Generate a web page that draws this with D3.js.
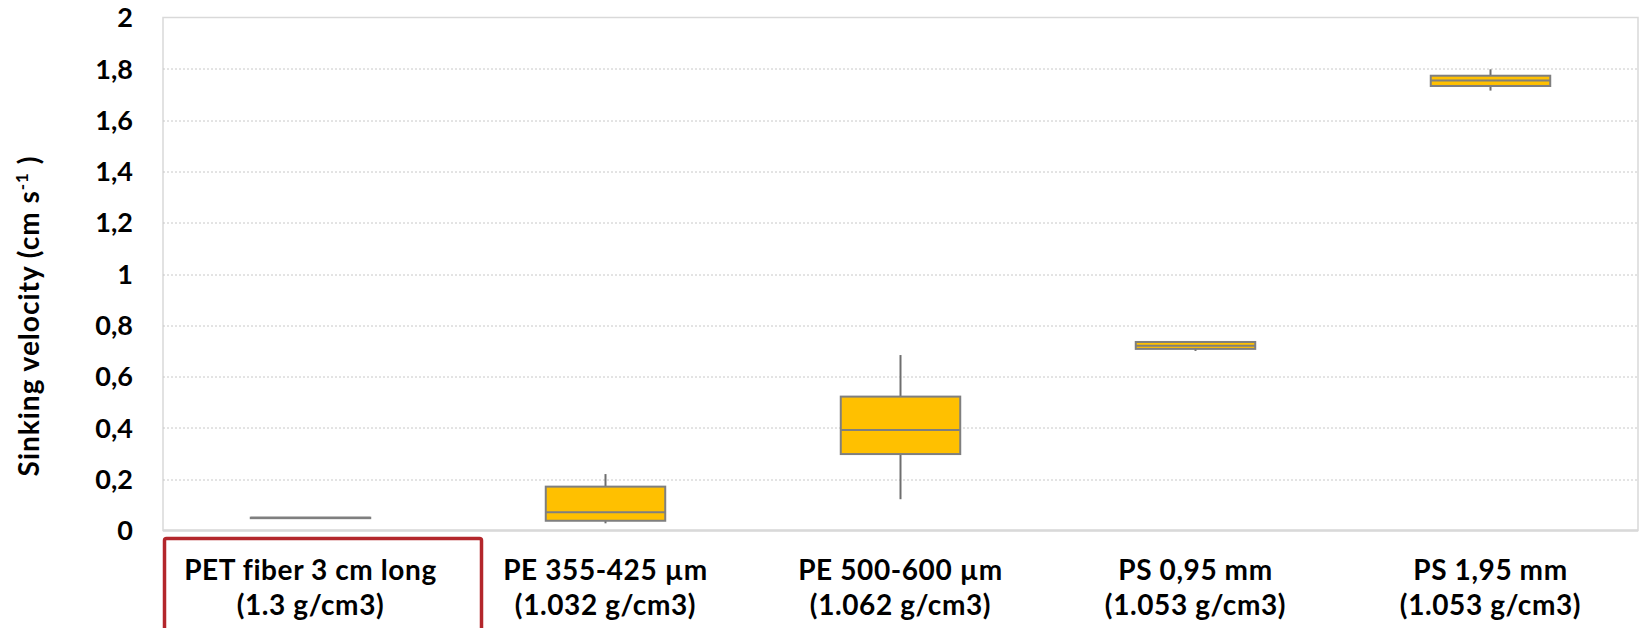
<!DOCTYPE html>
<html>
<head>
<meta charset="utf-8">
<script src="https://cdn.jsdelivr.net/npm/d3@7"></script>
<style>
  html, body { margin: 0; padding: 0; background: #fff; }
  svg { display: block; font-family: Lato, "Open Sans", sans-serif; }
  .tick-label { font-size: 27px; font-weight: 700; fill: #000; }
  .axis-title { font-size: 28px; font-weight: 700; fill: #000; letter-spacing: 1px; }
  .cat-label { font-size: 28px; font-weight: 700; fill: #000; letter-spacing: 0.6px; }
  .grid line { stroke: #c8c8c8; stroke-width: 1; stroke-dasharray: 2 2; }
</style>
</head>
<body>
<div id="chart"></div>
<script>
const categories = [
  ["PET fiber 3 cm long", "(1.3 g/cm3)"],
  ["PE 355-425 µm", "(1.032 g/cm3)"],
  ["PE 500-600 µm", "(1.062 g/cm3)"],
  ["PS 0,95 mm", "(1.053 g/cm3)"],
  ["PS 1,95 mm", "(1.053 g/cm3)"]
];
const whiskerLow = [0.05, 0.028, 0.122, 0.700, 1.715];
const q1 = [0.05, 0.038, 0.298, 0.708, 1.733];
const median = [0.05, 0.071, 0.392, 0.720, 1.754];
const q3 = [0.05, 0.171, 0.522, 0.735, 1.773];
const whiskerHigh = [0.05, 0.220, 0.684, 0.735, 1.798];
const yTicks = [0, 0.2, 0.4, 0.6, 0.8, 1, 1.2, 1.4, 1.6, 1.8, 2];
const highlighted = 0;

const width = 1643;
const height = 628;
const margin = { top: 17.5, right: 5, bottom: 97.5, left: 163 };
const innerWidth = width - margin.left - margin.right;
const innerHeight = height - margin.top - margin.bottom;

const rows = categories.map((c, i) => ({
  key: c.join(" "),
  lines: c,
  lo: whiskerLow[i],
  q1: q1[i],
  med: median[i],
  q3: q3[i],
  hi: whiskerHigh[i]
}));

const svg = d3.select("#chart")
  .append("svg")
  .attr("width", width)
  .attr("height", height);

const g = svg.append("g")
  .attr("transform", `translate(${margin.left},${margin.top})`);

const x = d3.scaleBand()
  .domain(rows.map((d) => d.key))
  .range([0, innerWidth])
  .paddingInner(0)
  .paddingOuter(0);

const y = d3.scaleLinear().domain([0, 2]).range([innerHeight, 0]);

const fmt = (d) => String(d).replace(".", ",");

// plot frame
g.append("rect")
  .attr("x", 0)
  .attr("y", 0)
  .attr("width", innerWidth)
  .attr("height", innerHeight)
  .attr("fill", "none")
  .attr("stroke", "#d9d9d9")
  .attr("stroke-width", 1.5);

// dotted gridlines
g.append("g")
  .attr("class", "grid")
  .selectAll("line")
  .data(yTicks.filter((t) => t > 0 && t < 2))
  .join("line")
  .attr("x1", 0)
  .attr("x2", innerWidth)
  .attr("y1", (d) => Math.round(y(d)) + 0.5)
  .attr("y2", (d) => Math.round(y(d)) + 0.5);

// bottom axis line
g.append("line")
  .attr("x1", 0)
  .attr("x2", innerWidth)
  .attr("y1", innerHeight)
  .attr("y2", innerHeight)
  .attr("stroke", "#d9d9d9")
  .attr("stroke-width", 2.5);

// y tick labels
g.append("g")
  .selectAll("text")
  .data(yTicks)
  .join("text")
  .attr("class", "tick-label")
  .attr("x", -30)
  .attr("y", (d) => y(d))
  .attr("dy", "0.36em")
  .attr("text-anchor", "end")
  .text(fmt);

// y axis title
const title = svg.append("text")
  .attr("class", "axis-title")
  .attr("transform", `translate(39,${316}) rotate(-90)`)
  .attr("text-anchor", "middle");
title.append("tspan").text("Sinking velocity (cm s");
title.append("tspan").attr("font-size", "17px").attr("dy", "-11").text("-1");
title.append("tspan").attr("dy", "11").text(" )");

// boxes
const boxW = x.bandwidth() * 0.405;
const boxes = g.append("g")
  .selectAll("g")
  .data(rows)
  .join("g")
  .attr("transform", (d) => `translate(${x(d.key) + x.bandwidth() / 2},0)`);

boxes.append("line")
  .attr("x1", 0)
  .attr("x2", 0)
  .attr("y1", (d) => y(d.hi))
  .attr("y2", (d) => y(d.lo))
  .attr("stroke", "#6e6e6e")
  .attr("stroke-width", 2);

boxes.append("rect")
  .attr("x", -boxW / 2)
  .attr("width", boxW)
  .attr("y", (d) => y(d.q3))
  .attr("height", (d) => Math.max(0.5, y(d.q1) - y(d.q3)))
  .attr("fill", "#ffc000")
  .attr("stroke", "#7f7f7f")
  .attr("stroke-width", 2);

boxes.append("line")
  .attr("x1", -boxW / 2)
  .attr("x2", boxW / 2)
  .attr("y1", (d) => y(d.med))
  .attr("y2", (d) => y(d.med))
  .attr("stroke", "#7f7f7f")
  .attr("stroke-width", 2);

// category labels
const labels = g.append("g")
  .selectAll("text")
  .data(rows)
  .join("text")
  .attr("class", "cat-label")
  .attr("text-anchor", "middle")
  .attr("x", (d) => x(d.key) + x.bandwidth() / 2)
  .attr("y", innerHeight + 49);

labels.selectAll("tspan")
  .data((d) => d.lines.map((line, i) => ({ line, i, cx: x(d.key) + x.bandwidth() / 2 })))
  .join("tspan")
  .attr("x", (d) => d.cx)
  .attr("dy", (d) => (d.i === 0 ? 0 : 35))
  .text((d) => d.line);

// red highlight frame around the first category label
const hk = rows[highlighted].key;
g.append("rect")
  .attr("x", x(hk) + 1.5)
  .attr("y", innerHeight + 8)
  .attr("width", x.bandwidth() + 22)
  .attr("height", 100)
  .attr("fill", "none")
  .attr("stroke", "#b3262b")
  .attr("stroke-width", 3.5)
  .attr("rx", 2);
</script>
</body>
</html>
